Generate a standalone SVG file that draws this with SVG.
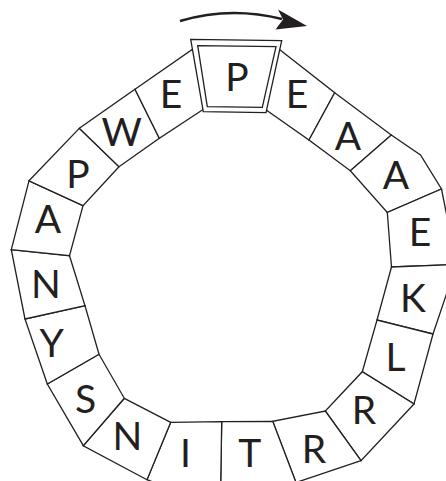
<svg xmlns="http://www.w3.org/2000/svg" width="446" height="481" viewBox="0 0 446 481">
<defs>
<style>
.cell{fill:#fff;stroke:#231f20;stroke-width:1.3;stroke-linejoin:miter}
.lt{font-family:Lato,"Open Sans","DejaVu Sans",sans-serif;font-size:39px;fill:#231f20;text-anchor:middle}
.arc{fill:none;stroke:#231f20;stroke-width:2.6}
</style>
</defs>
<rect width="446" height="481" fill="#fff"/>
<g id="connectors">
<path class="arc" d="M180,21 Q230,6 282,19"/>
<polygon points="307,26 278,9.5 283,19.5 275.5,29.5" fill="#231f20"/>
</g>
<g id="cell-E1"><polygon class="cell" points="276,46.7 334.7,92.7 309,140 262.3,107.3"/><text class="lt" x="297" y="108">E</text></g>
<g id="cell-A1"><polygon class="cell" points="334.7,92.7 391.3,135 350.3,170.7 309,140"/><text class="lt" x="348" y="149.5">A</text></g>
<g id="cell-A2"><polygon class="cell" points="391.3,135 420.5,155 441.5,189 387.3,212.5 350.3,170.7"/><text class="lt" x="396" y="188.5">A</text></g>
<g id="cell-E2"><polygon class="cell" points="441.5,189 456.5,264.5 391.5,267 387.3,212.5"/><text class="lt" x="420" y="245.5">E</text></g>
<g id="cell-K"><polygon class="cell" points="456.5,264.5 433,334 377,320 391.5,267"/><text class="lt" x="413" y="311.5">K</text></g>
<g id="cell-L"><polygon class="cell" points="433,334 414,404 362.3,371.7 377,320"/><text class="lt" x="395.5" y="371">L</text></g>
<g id="cell-R1"><polygon class="cell" points="414,404 361,460.7 325.3,411 362.3,371.7"/><text class="lt" x="364" y="423.5">R</text></g>
<g id="cell-R2"><polygon class="cell" points="361,460.7 296,482.5 272.7,421.3 325.3,411"/><text class="lt" x="314" y="462.5">R</text></g>
<g id="cell-T"><polygon class="cell" points="296,482.5 220.3,508 221.7,421.7 272.7,421.3"/><text class="lt" x="249.7" y="467">T</text></g>
<g id="cell-I"><polygon class="cell" points="220.3,508 147,479.7 170.7,422.3 221.7,421.7"/><text class="lt" x="185.5" y="466.5">I</text></g>
<g id="cell-N1"><polygon class="cell" points="147,479.7 83.3,445.7 124.3,398.3 170.7,422.3"/><text class="lt" x="127.5" y="449.5">N</text></g>
<g id="cell-S"><polygon class="cell" points="83.3,445.7 47.3,384 99,354.3 124.3,398.3"/><text class="lt" x="85.7" y="412.5">S</text></g>
<g id="cell-Y"><polygon class="cell" points="47.3,384 25,319 85,305.7 99,354.3"/><text class="lt" x="51.7" y="356.5">Y</text></g>
<g id="cell-N2"><polygon class="cell" points="25,319 11.3,249.7 69.5,255.7 85,305.7"/><text class="lt" x="46" y="297.5">N</text></g>
<g id="cell-A3"><polygon class="cell" points="11.3,249.7 29,180.8 83,205.7 69.5,255.7"/><text class="lt" x="48" y="233">A</text></g>
<g id="cell-P2"><polygon class="cell" points="29,180.8 79.3,128.3 119,166.7 83,205.7"/><text class="lt" x="78" y="187.5">P</text></g>
<g id="cell-W"><polygon class="cell" points="79.3,128.3 135,89.3 159.3,138.3 119,166.7"/><text class="lt" x="121.7" y="146">W</text></g>
<g id="cell-E3"><polygon class="cell" points="135,89.3 197.7,45.7 207.3,106.7 159.3,138.3"/><text class="lt" x="171" y="108">E</text></g>
<g id="cell-P-top">
<polygon class="cell" points="190.7,39.3 281.7,40.7 266,112.7 203.3,111.7"/>
<polygon class="cell" points="197.7,45.7 276,46.7 262.3,107.3 207.3,106.7"/>
<text class="lt" x="237" y="90.5">P</text>
</g>
</svg>
